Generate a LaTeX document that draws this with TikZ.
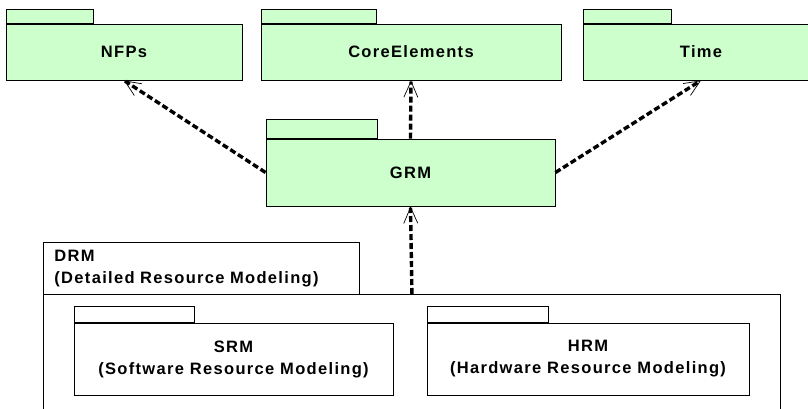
\documentclass[tikz,border=0pt]{standalone}
\usepackage{fontspec}
\newfontfamily\pkgfont[LetterSpace=8]{Liberation Sans}
\usetikzlibrary{arrows.meta}
\definecolor{pkggreen}{HTML}{CCFFCC}
\tikzset{
  x=1pt,y=-1pt,
  pkg/.style={draw,fill=pkggreen,line width=0.9pt,inner sep=0pt,align=center,font=\pkgfont\bfseries\fontsize{16.5}{22}\selectfont},
  tabbox/.style={draw,fill=pkggreen,line width=0.9pt,inner sep=0pt,anchor=south west},
  dep/.style={line width=3.4pt,dash pattern=on 6pt off 3pt,-{Straight Barb[length=16pt,width=14pt,line width=0.7pt]}},
}
\begin{document}
\begin{tikzpicture}
\useasboundingbox (0,0) rectangle (808,409);
\clip (0,0) rectangle (808,409);
% top packages
\node[pkg,minimum width=236pt,minimum height=56pt] (nfps) at (124,52) {NFPs};
\node[pkg,minimum width=300pt,minimum height=56pt] (core) at (411,52) {CoreElements};
\node[pkg,minimum width=236pt,minimum height=56pt] (time) at (701,52) {Time};
\node[tabbox,minimum width=87pt,minimum height=14pt] (nfpsTab) at (nfps.north west) {};
\node[tabbox,minimum width=115pt,minimum height=14pt] (coreTab) at (core.north west) {};
\node[tabbox,minimum width=88pt,minimum height=14pt] (timeTab) at (time.north west) {};
% GRM
\node[pkg,minimum width=289pt,minimum height=67pt] (grm) at (410.5,172.5) {GRM};
\node[tabbox,minimum width=111pt,minimum height=19pt] (grmTab) at (grm.north west) {};
% DRM
\node[pkg,fill=white,anchor=north west,minimum width=737pt,minimum height=130pt] (drm) at (43,294) {};
\node[pkg,fill=white,anchor=north west,align=left,minimum width=316pt,minimum height=52pt,text width=294pt,inner xsep=11pt] (drmLabel) at (43,242) {DRM\\(Detailed Resource Modeling)};
\node[pkg,fill=white,minimum width=319pt,minimum height=72pt] (srm) at (233.5,359) {SRM\\(Software Resource Modeling)};
\node[tabbox,fill=white,minimum width=120pt,minimum height=16pt] (srmTab) at (srm.north west) {};
\node[pkg,fill=white,minimum width=322pt,minimum height=72pt] (hrm) at (588,359) {HRM\\(Hardware Resource Modeling)};
\node[tabbox,fill=white,minimum width=121pt,minimum height=16pt] (hrmTab) at (hrm.north west) {};
% dependencies
\draw[dep] (grm.west) -- (nfps.south);
\draw[dep] (grm.north) -- (core.south);
\draw[dep] (grm.east) -- (time.south);
\draw[dep] (drm.north) -- (grm.south);
\end{tikzpicture}
\end{document}
